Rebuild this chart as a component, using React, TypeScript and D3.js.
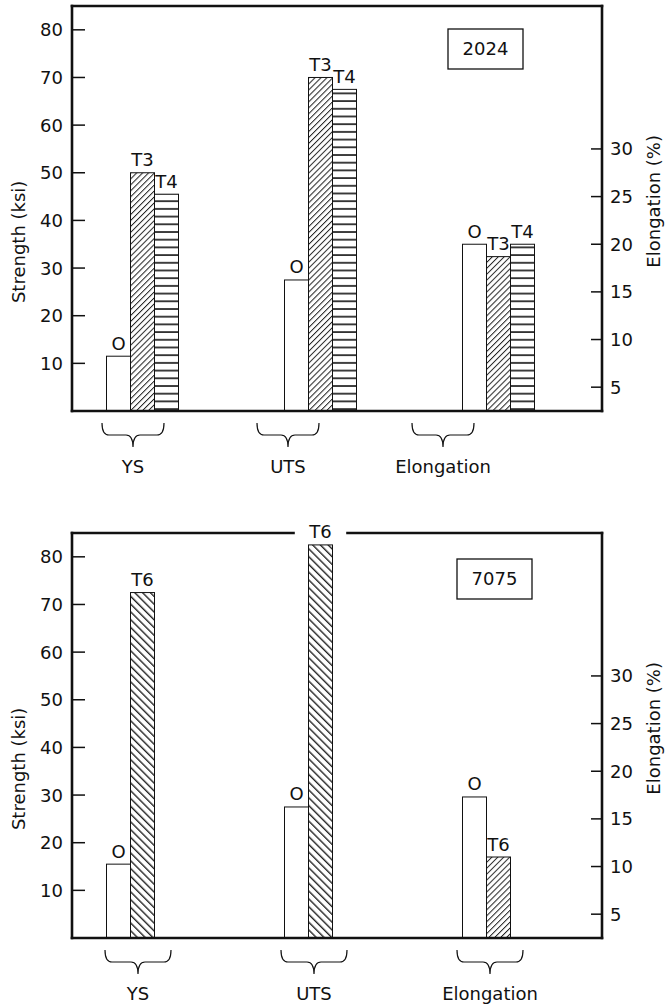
import React from 'react';
import * as d3 from 'd3';

// categories along the x axis
const categories = ['YS', 'UTS', 'Elongation'];
const strengthTicks = [10, 20, 30, 40, 50, 60, 70, 80];
const elongationTicks = [5, 10, 15, 20, 25, 30];

// 2024 alloy: YS and UTS in ksi, Elongation in %
const tempers2024 = ['O', 'T3', 'T4'];
const o2024 = [11.5, 27.5, 20.0];
const t3_2024 = [50.0, 70.0, 18.7];
const t4_2024 = [45.5, 67.5, 20.0];

// 7075 alloy
const tempers7075 = ['O', 'T6'];
const o7075 = [15.5, 27.5, 17.3];
const t6_7075 = [72.5, 82.5, 11.0];

const W = 666;
const H = 1006;
const FRAME_L = 72;
const FRAME_R = 602;
const FRAME_H = 405;
const FONT = "'DejaVu Sans', sans-serif";

function Brace({ cx, y, half }: { cx: number; y: number; half: number }) {
  const d =
    `M${cx - half},${y} Q${cx - half},${y + 12} ${cx - half + 7},${y + 12} ` +
    `L${cx - 7},${y + 12} Q${cx},${y + 12} ${cx},${y + 24} ` +
    `Q${cx},${y + 12} ${cx + 7},${y + 12} L${cx + half - 7},${y + 12} ` +
    `Q${cx + half},${y + 12} ${cx + half},${y}`;
  return <path d={d} fill="none" stroke="#111" strokeWidth={1.2} />;
}

function Chart({ top, title, box, tempers, values, hatch, braceRange, braceHalf }: any) {
  const bottom = top + FRAME_H;
  const y = d3.scaleLinear().domain([0, 85]).range([bottom, top]);
  const yE = d3.scaleLinear().domain([2.5, 45]).range([bottom, top]);
  const x0 = d3.scalePoint<string>().domain(categories).range([106.5, 462.5]);
  const x1 = d3.scaleBand<string>().domain(tempers).range([0, 24 * tempers.length]);
  const xb = d3.scalePoint<string>().domain(categories).range(braceRange);

  const bars: any[] = [];
  categories.forEach((c, ci) => {
    tempers.forEach((t: string, ti: number) => {
      const v = values[ti][ci];
      const sc = c === 'Elongation' ? yE : y;
      bars.push({
        key: c + t,
        t,
        x: (x0(c) as number) + (x1(t) as number),
        w: x1.bandwidth(),
        yTop: sc(v),
        fill: hatch(t, c),
      });
    });
  });

  // labels that poke through the top frame line break it
  const gaps = bars
    .filter(b => b.yTop - 6.5 - 13 < top)
    .map(b => [b.x + b.w / 2 - 27, b.x + b.w / 2 + 27])
    .sort((a, b) => a[0] - b[0]);
  const topSegs: number[][] = [];
  let cur = FRAME_L;
  gaps.forEach(g => {
    topSegs.push([cur, g[0]]);
    cur = g[1];
  });
  topSegs.push([cur, FRAME_R]);

  return (
    <g fontFamily={FONT} fontSize={18} fill="#111">
      {bars.map(b => (
        <g key={b.key}>
          <rect x={b.x} y={b.yTop} width={b.w} height={bottom - b.yTop}
            fill={b.fill} stroke="#111" strokeWidth={1} />
          <text x={b.x + b.w / 2} y={b.yTop - 6.5} textAnchor="middle">{b.t}</text>
        </g>
      ))}

      {/* frame */}
      <g stroke="#111" strokeWidth={2.6} strokeLinecap="square" fill="none">
        <line x1={FRAME_L} y1={top} x2={FRAME_L} y2={bottom} />
        <line x1={FRAME_R} y1={top} x2={FRAME_R} y2={bottom} />
        <line x1={FRAME_L} y1={bottom} x2={FRAME_R} y2={bottom} />
        {topSegs.map((s, i) => (
          <line key={i} x1={s[0]} y1={top} x2={s[1]} y2={top} strokeLinecap={i === 0 || i === topSegs.length - 1 ? 'square' : 'butt'} />
        ))}
      </g>

      {/* left axis */}
      {strengthTicks.map(t => (
        <g key={'s' + t}>
          <line x1={FRAME_L} x2={FRAME_L + 13} y1={y(t)} y2={y(t)} stroke="#111" strokeWidth={1.5} />
          <text x={63} y={y(t)} dy="0.36em" textAnchor="end">{t}</text>
        </g>
      ))}
      <text transform={`translate(24.5,${y(35.5)}) rotate(-90)`} textAnchor="middle">Strength (ksi)</text>

      {/* right axis */}
      {elongationTicks.map(t => (
        <g key={'e' + t}>
          <line x1={FRAME_R - 11} x2={FRAME_R} y1={yE(t)} y2={yE(t)} stroke="#111" strokeWidth={1.5} />
          <text x={610} y={yE(t)} dy="0.36em" textAnchor="start">{t}</text>
        </g>
      ))}
      <text transform={`translate(660,${y(44)}) rotate(-90)`} textAnchor="middle">Elongation (%)</text>

      {/* title box */}
      <rect x={box[0]} y={top + box[1]} width={75} height={40} fill="#fff" stroke="#111" strokeWidth={1.3} />
      <text x={box[0] + 37.5} y={top + box[1] + 20} dy="0.36em" textAnchor="middle">{title}</text>

      {/* braces and category labels */}
      {categories.map(c => (
        <g key={'b' + c}>
          <Brace cx={xb(c) as number} y={bottom + 12} half={braceHalf} />
          <text x={xb(c) as number} y={bottom + 61.5} textAnchor="middle">{c}</text>
        </g>
      ))}
    </g>
  );
}

export default function App() {
  const hatch2024 = (t: string) => (t === 'T3' ? 'url(#hUp)' : t === 'T4' ? 'url(#hHoriz)' : '#fff');
  const hatch7075 = (t: string, c: string) =>
    t === 'T6' ? (c === 'Elongation' ? 'url(#hUp)' : 'url(#hDown)') : '#fff';

  return (
    <svg width={W} height={H} style={{ position: 'absolute', left: 0, top: 0, background: '#fff' }}>
      <defs>
        <pattern id="hUp" patternUnits="userSpaceOnUse" width={4.2} height={4.2} patternTransform="rotate(45)">
          <rect width={4.2} height={4.2} fill="#fff" />
          <line x1={0.5} y1={0} x2={0.5} y2={4.2} stroke="#222" strokeWidth={1} />
        </pattern>
        <pattern id="hDown" patternUnits="userSpaceOnUse" width={5.5} height={5.5} patternTransform="rotate(-45)">
          <rect width={5.5} height={5.5} fill="#fff" />
          <line x1={0.7} y1={0} x2={0.7} y2={5.5} stroke="#222" strokeWidth={1.4} />
        </pattern>
        <pattern id="hHoriz" patternUnits="userSpaceOnUse" width={10} height={7.7}>
          <rect width={10} height={7.7} fill="#fff" />
          <line x1={0} y1={1} x2={10} y2={1} stroke="#111" strokeWidth={1.6} />
        </pattern>
      </defs>
      <Chart
        top={6}
        title="2024"
        box={[448, 23]}
        tempers={tempers2024}
        values={[o2024, t3_2024, t4_2024]}
        hatch={hatch2024}
        braceRange={[133, 443]}
        braceHalf={31}
      />
      <Chart
        top={533}
        title="7075"
        box={[457, 26]}
        tempers={tempers7075}
        values={[o7075, t6_7075]}
        hatch={hatch7075}
        braceRange={[138, 490]}
        braceHalf={33}
      />
    </svg>
  );
}
